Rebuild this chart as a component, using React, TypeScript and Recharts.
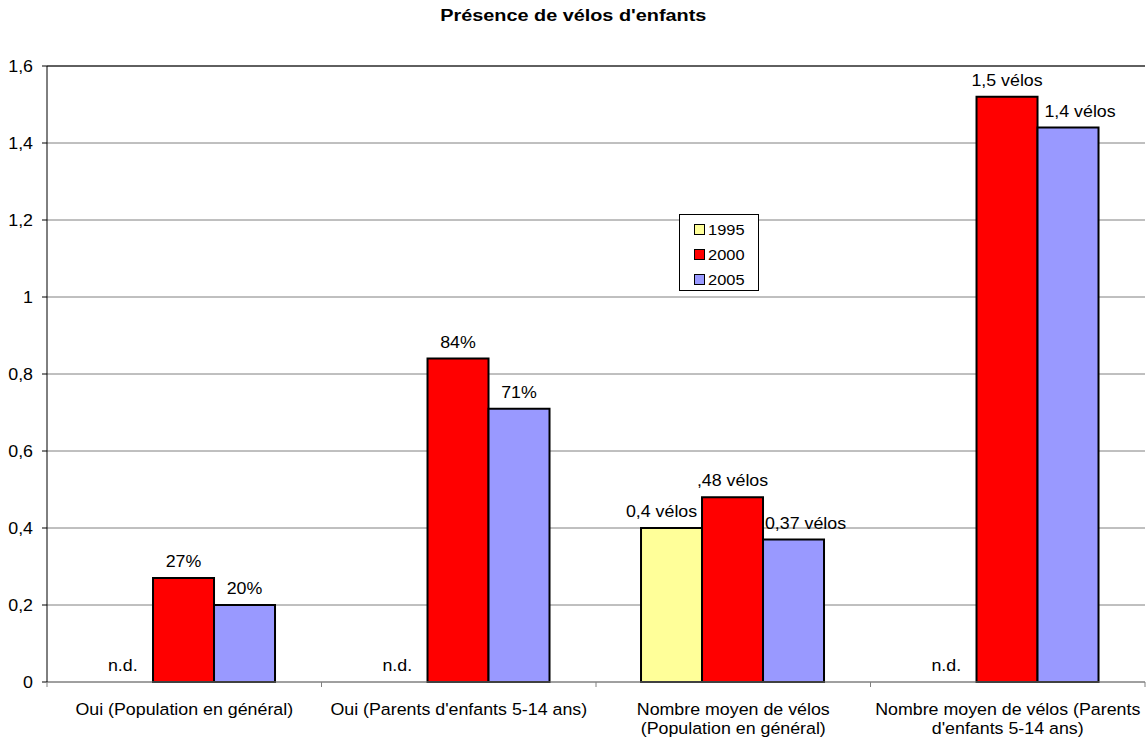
import React from 'react';
import {
  BarChart,
  Bar,
  XAxis,
  YAxis,
  CartesianGrid,
  Legend,
  LabelList,
  ReferenceLine,
} from 'recharts';

const categories = [
  'Oui (Population en général)',
  "Oui (Parents d'enfants 5-14 ans)",
  'Nombre moyen de vélos\n(Population en général)',
  "Nombre moyen de vélos (Parents\nd'enfants 5-14 ans)",
];

const values1995 = [0, 0, 0.4, 0];
const values2000 = [0.27, 0.84, 0.48, 1.52];
const values2005 = [0.2, 0.71, 0.37, 1.44];

const labels1995 = ['n.d.', 'n.d.', '0,4 vélos', 'n.d.'];
const labels2000 = ['27%', '84%', ',48 vélos', '1,5 vélos'];
const labels2005 = ['20%', '71%', '0,37 vélos', '1,4 vélos'];

const yTicks = [0, 0.2, 0.4, 0.6, 0.8, 1, 1.2, 1.4, 1.6];

const seriesNames = ['1995', '2000', '2005'];
const colors = ['#FFFF99', '#FF0000', '#9999FF'];

const data = categories.map((name, i) => ({
  name,
  v1995: values1995[i],
  v2000: values2000[i],
  v2005: values2005[i],
  l1995: labels1995[i],
  l2000: labels2000[i],
  l2005: labels2005[i],
}));

const FONT = "'Liberation Sans', Arial, sans-serif";
const FONT_SIZE = 16.5;
const STRETCH = 1.08;
const CATEGORY_GAP = 0.164;

// the reference glyphs are a bit wider than plain Arial
const SText = ({ x, y, anchor, children }: any) => (
  <text
    transform={`translate(${x},${y}) scale(${STRETCH},1)`}
    textAnchor={anchor}
    fontFamily={FONT}
    fontSize={FONT_SIZE}
    fill="#000"
  >
    {children}
  </text>
);

const YTick = (props: any) => {
  const { x, y, payload } = props;
  const label = String(payload.value).replace('.', ',');
  return (
    <SText x={x} y={y + 6} anchor="end">
      {label}
    </SText>
  );
};

const XTick = (props: any) => {
  const { x, y, payload, width, visibleTicksCount, index } = props;
  const half = payload.offset ?? width / visibleTicksCount / 2;
  const axisY = y - 5;
  const lines = String(payload.value).split('\n');
  // zero-height 1995 bars get no label from recharts, so "n.d." is put here
  const barW = (2 * half * (1 - 2 * CATEGORY_GAP)) / 3;
  const missing = values1995[index] === 0;
  return (
    <g>
      <line x1={x - half} x2={x - half} y1={axisY} y2={axisY + 5} stroke="#808080" />
      {index === visibleTicksCount - 1 && (
        <line x1={x + half} x2={x + half} y1={axisY} y2={axisY + 5} stroke="#808080" />
      )}
      {missing && (
        <SText x={x - barW} y={axisY - 11} anchor="middle">
          {labels1995[index]}
        </SText>
      )}
      {lines.map((l, i) => (
        <SText key={i} x={x} y={axisY + 33 + i * 19} anchor="middle">
          {l}
        </SText>
      ))}
    </g>
  );
};

// long "vélos" labels are pushed aside so they don't overlap the neighbour bar label
const makeBarLabel = (nudge: number) => (props: any) => {
  const { x, y, width, height, value } = props;
  if (!height) return null;
  const dx = String(value).includes('vélos') ? nudge : 0;
  return (
    <SText x={x + width / 2 + dx} y={y - 11} anchor="middle">
      {value}
    </SText>
  );
};

const LegendBox = (props: any) => {
  const { payload } = props;
  return (
    <div
      style={{
        width: 80,
        height: 77,
        border: '1px solid #000',
        background: '#fff',
        boxSizing: 'border-box',
        paddingTop: 2,
      }}
    >
      {payload.map((p: any) => (
        <div
          key={p.value}
          style={{ display: 'flex', alignItems: 'center', height: 25, paddingLeft: 14 }}
        >
          <span
            style={{
              display: 'inline-block',
              width: 9,
              height: 9,
              background: p.color,
              border: '1px solid #000',
              marginRight: 3,
            }}
          />
          <span
            style={{
              fontFamily: FONT,
              fontSize: 15.5,
              display: 'inline-block',
              transform: 'scaleX(1.06)',
              transformOrigin: 'left center',
            }}
          >
            {p.value}
          </span>
        </div>
      ))}
    </div>
  );
};

export default function App() {
  return (
    <div style={{ position: 'absolute', left: 0, top: 0, width: 1146, height: 739, background: '#fff' }}>
      <div
        style={{
          position: 'absolute',
          top: 8,
          left: 0,
          width: 1146,
          textAlign: 'center',
          fontFamily: FONT,
          fontWeight: 'bold',
          fontSize: 16,
          lineHeight: '16px',
          zIndex: 2,
        }}
      >
        <span style={{ display: 'inline-block', transform: 'scaleX(1.24)' }}>
          Présence de vélos d'enfants
        </span>
      </div>
      <BarChart
        width={1146}
        height={739}
        data={data}
        margin={{ top: 66, right: 1, left: 0, bottom: 0 }}
        barCategoryGap={`${CATEGORY_GAP * 100}%`}
        barGap={0}
      >
        <CartesianGrid vertical={false} stroke="#808080" />
        <ReferenceLine y={1.6} stroke="#000" />
        <XAxis
          dataKey="name"
          height={57}
          stroke="#808080"
          tickLine={false}
          tickSize={5}
          tickMargin={0}
          interval={0}
          tick={<XTick />}
        />
        <YAxis
          width={47}
          domain={[0, 1.6]}
          ticks={yTicks}
          stroke="#000"
          tickSize={5}
          tickMargin={9}
          tick={<YTick />}
        />
        <Legend
          layout="vertical"
          align="center"
          verticalAlign="middle"
          wrapperStyle={{ left: 679, top: 214, width: 80, height: 77 }}
          content={<LegendBox />}
        />
        <Bar dataKey="v1995" name={seriesNames[0]} fill={colors[0]} stroke="#000" strokeWidth={2} isAnimationActive={false}>
          <LabelList dataKey="l1995" content={makeBarLabel(-10)} />
        </Bar>
        <Bar dataKey="v2000" name={seriesNames[1]} fill={colors[1]} stroke="#000" strokeWidth={2} isAnimationActive={false}>
          <LabelList dataKey="l2000" content={makeBarLabel(0)} />
        </Bar>
        <Bar dataKey="v2005" name={seriesNames[2]} fill={colors[2]} stroke="#000" strokeWidth={2} isAnimationActive={false}>
          <LabelList dataKey="l2005" content={makeBarLabel(12)} />
        </Bar>
      </BarChart>
    </div>
  );
}
